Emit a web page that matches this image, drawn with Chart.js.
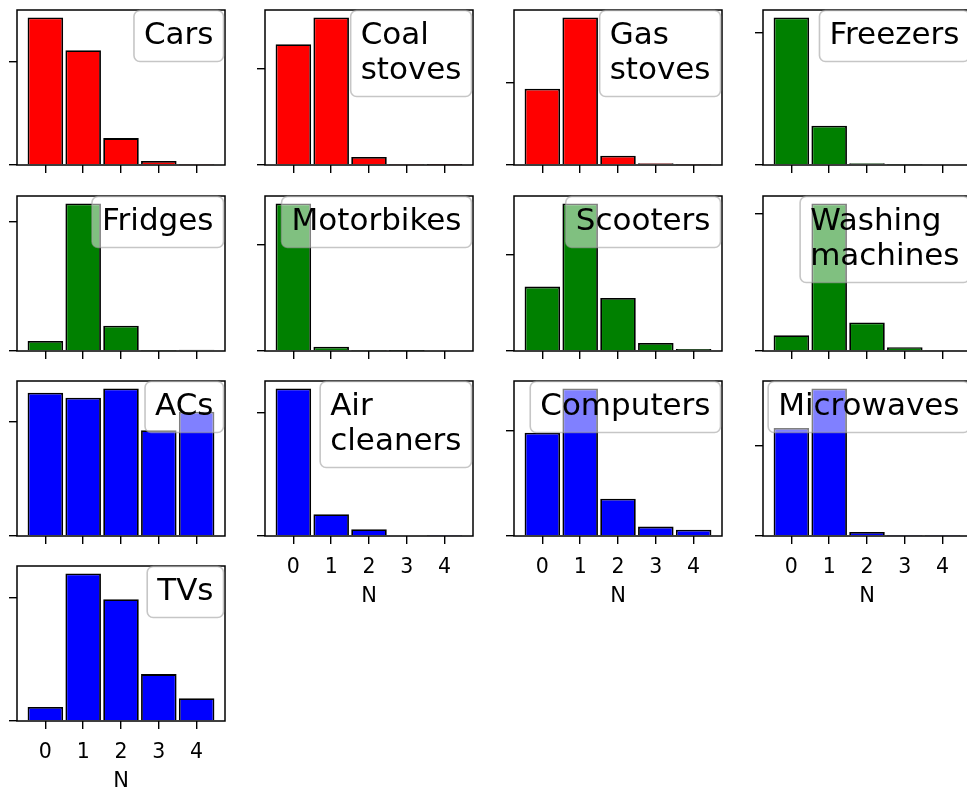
<!DOCTYPE html>
<html>
<head>
<meta charset="utf-8">
<script src="https://cdn.jsdelivr.net/npm/chart.js@4"></script>
<style>
  html, body { margin: 0; padding: 0; background: #fff; overflow: hidden; width: 967px; height: 802px; }
  #fig { position: relative; width: 967px; height: 802px; }
  #fig canvas { position: absolute; }
</style>
</head>
<body>
<div id="fig"></div>
<script>
// Number of appliances of each kind per household
const counts = [0, 1, 2, 3, 4];
const xTickLabels = ['0', '1', '2', '3', '4'];
const xTitle = 'N';

const appliances = ['Cars', 'Coal\nstoves', 'Gas\nstoves', 'Freezers',
                    'Fridges', 'Motorbikes', 'Scooters', 'Washing\nmachines',
                    'ACs', 'Air\ncleaners', 'Computers', 'Microwaves', 'TVs'];

// Households owning N of each appliance
const cars            = [1433, 1114, 261, 39, 3];
const coalStoves      = [1254, 1533, 84, 3, 1];
const gasStoves       = [927, 1796, 114, 20, 2];
const freezers        = [2240, 596, 25, 2, 0];
const fridges         = [156, 2286, 390, 5, 21];
const motorbikes      = [2776, 82, 6, 1, 0];
const scooters        = [669, 1533, 551, 84, 21];
const washingMachines = [229, 2146, 415, 54, 15];
const acs             = [624, 602, 643, 461, 541];
const airCleaners     = [2391, 353, 109, 11, 3];
const computers       = [978, 1397, 352, 89, 60];
const microwaves      = [1193, 1630, 44, 4, 2];
const tvs             = [114, 1196, 986, 380, 185];

// The single non-zero y tick of each panel
const yTicks = [1000, 1000, 1000, 2000, 2000, 2000, 1000, 2000, 500, 2000, 1000, 1000, 1000];

const panelValues = [cars, coalStoves, gasStoves, freezers, fridges, motorbikes,
                     scooters, washingMachines, acs, airCleaners, computers, microwaves, tvs];
const panelColors = ['#ff0000', '#ff0000', '#ff0000', '#008000', '#008000', '#008000',
                     '#008000', '#008000', '#0000ff', '#0000ff', '#0000ff', '#0000ff', '#0000ff'];
const withXLabels = [false, false, false, false, false, false, false, false, false, true, true, true, true];

// Grid of axes boxes
const colLeft = [17, 265, 514, 763];
const rowTop = [10, 196, 381, 566];
const AX_W = 208, AX_H = 155;
const PAD_L = 16, PAD_T = 8, PAD_R = 6;
const FONT = '"DejaVu Sans", sans-serif';

// Draws the axes frame and the boxed panel label in the upper right corner
const framePlugin = {
  id: 'panelFrame',
  afterDraw(chart, args, opts) {
    const { ctx, chartArea: { left, top, right, bottom } } = chart;
    ctx.save();
    ctx.strokeStyle = '#000';
    ctx.lineWidth = 1.5;
    ctx.strokeRect(left, top, right - left, bottom - top);

    const lines = opts.label.split('\n');
    ctx.font = '31px ' + FONT;
    const tw = Math.max(...lines.map(l => ctx.measureText(l).width));
    const bw = tw + 20, bh = 16 + 35 * lines.length;
    const bx = right - 1.5 - bw, by = top + 0.5;
    ctx.beginPath();
    ctx.roundRect(bx, by, bw, bh, 6);
    ctx.fillStyle = 'rgba(255,255,255,0.5)';
    ctx.fill();
    ctx.strokeStyle = 'rgba(160,160,160,0.6)';
    ctx.lineWidth = 1.6;
    ctx.stroke();
    ctx.fillStyle = '#000';
    ctx.textAlign = 'left';
    ctx.textBaseline = 'alphabetic';
    lines.forEach((l, k) => ctx.fillText(l, bx + 10, by + 33.5 + 35 * k));
    ctx.restore();
  }
};

const fig = document.getElementById('fig');

panelValues.forEach((vals, i) => {
  const row = Math.floor(i / 4), col = i % 4;
  const labelled = withXLabels[i];
  const padB = labelled ? 80 : 12;
  const cw = PAD_L + AX_W + PAD_R, ch = PAD_T + AX_H + padB;

  const canvas = document.createElement('canvas');
  canvas.width = cw;
  canvas.height = ch;
  canvas.style.width = cw + 'px';
  canvas.style.height = ch + 'px';
  canvas.style.left = (colLeft[col] - PAD_L) + 'px';
  canvas.style.top = (rowTop[row] - PAD_T) + 'px';
  fig.appendChild(canvas);

  const yMax = Math.max(...vals) * 1.05;
  const tickGrid = { drawOnChartArea: false, drawTicks: true, tickLength: 8, color: '#000', lineWidth: 1.4, offset: false };

  new Chart(canvas, {
    type: 'bar',
    data: {
      datasets: [{
        data: counts.map((n, k) => ({ x: n, y: vals[k] })),
        backgroundColor: panelColors[i],
        borderColor: '#000',
        borderWidth: 1.8,
        barPercentage: 0.94,
        categoryPercentage: 1
      }]
    },
    options: {
      responsive: false,
      animation: false,
      devicePixelRatio: 1,
      layout: { padding: { top: PAD_T, right: PAD_R, left: 0, bottom: 0 } },
      plugins: {
        legend: { display: false },
        tooltip: { enabled: false },
        panelFrame: { label: appliances[i] }
      },
      scales: {
        x: {
          type: 'linear',
          offset: false,
          min: -0.75,
          max: 4.75,
          afterBuildTicks: s => { s.ticks = counts.map(v => ({ value: v })); },
          afterFit: s => { s.height = padB; },
          grid: tickGrid,
          border: { display: false },
          ticks: {
            display: labelled,
            autoSkip: false,
            maxRotation: 0,
            padding: 11,
            color: '#000',
            font: { family: FONT, size: 20.5 },
            callback: (v, idx) => xTickLabels[idx]
          },
          title: {
            display: labelled,
            text: xTitle,
            color: '#000',
            font: { family: FONT, size: 21 },
            padding: { top: 0, bottom: 7 }
          }
        },
        y: {
          min: 0,
          max: yMax,
          afterBuildTicks: s => { s.ticks = [{ value: 0 }, { value: yTicks[i] }]; },
          afterFit: s => { s.width = PAD_L; },
          grid: tickGrid,
          border: { display: false },
          ticks: { display: false }
        }
      }
    },
    plugins: [framePlugin]
  });
});
</script>
</body>
</html>
